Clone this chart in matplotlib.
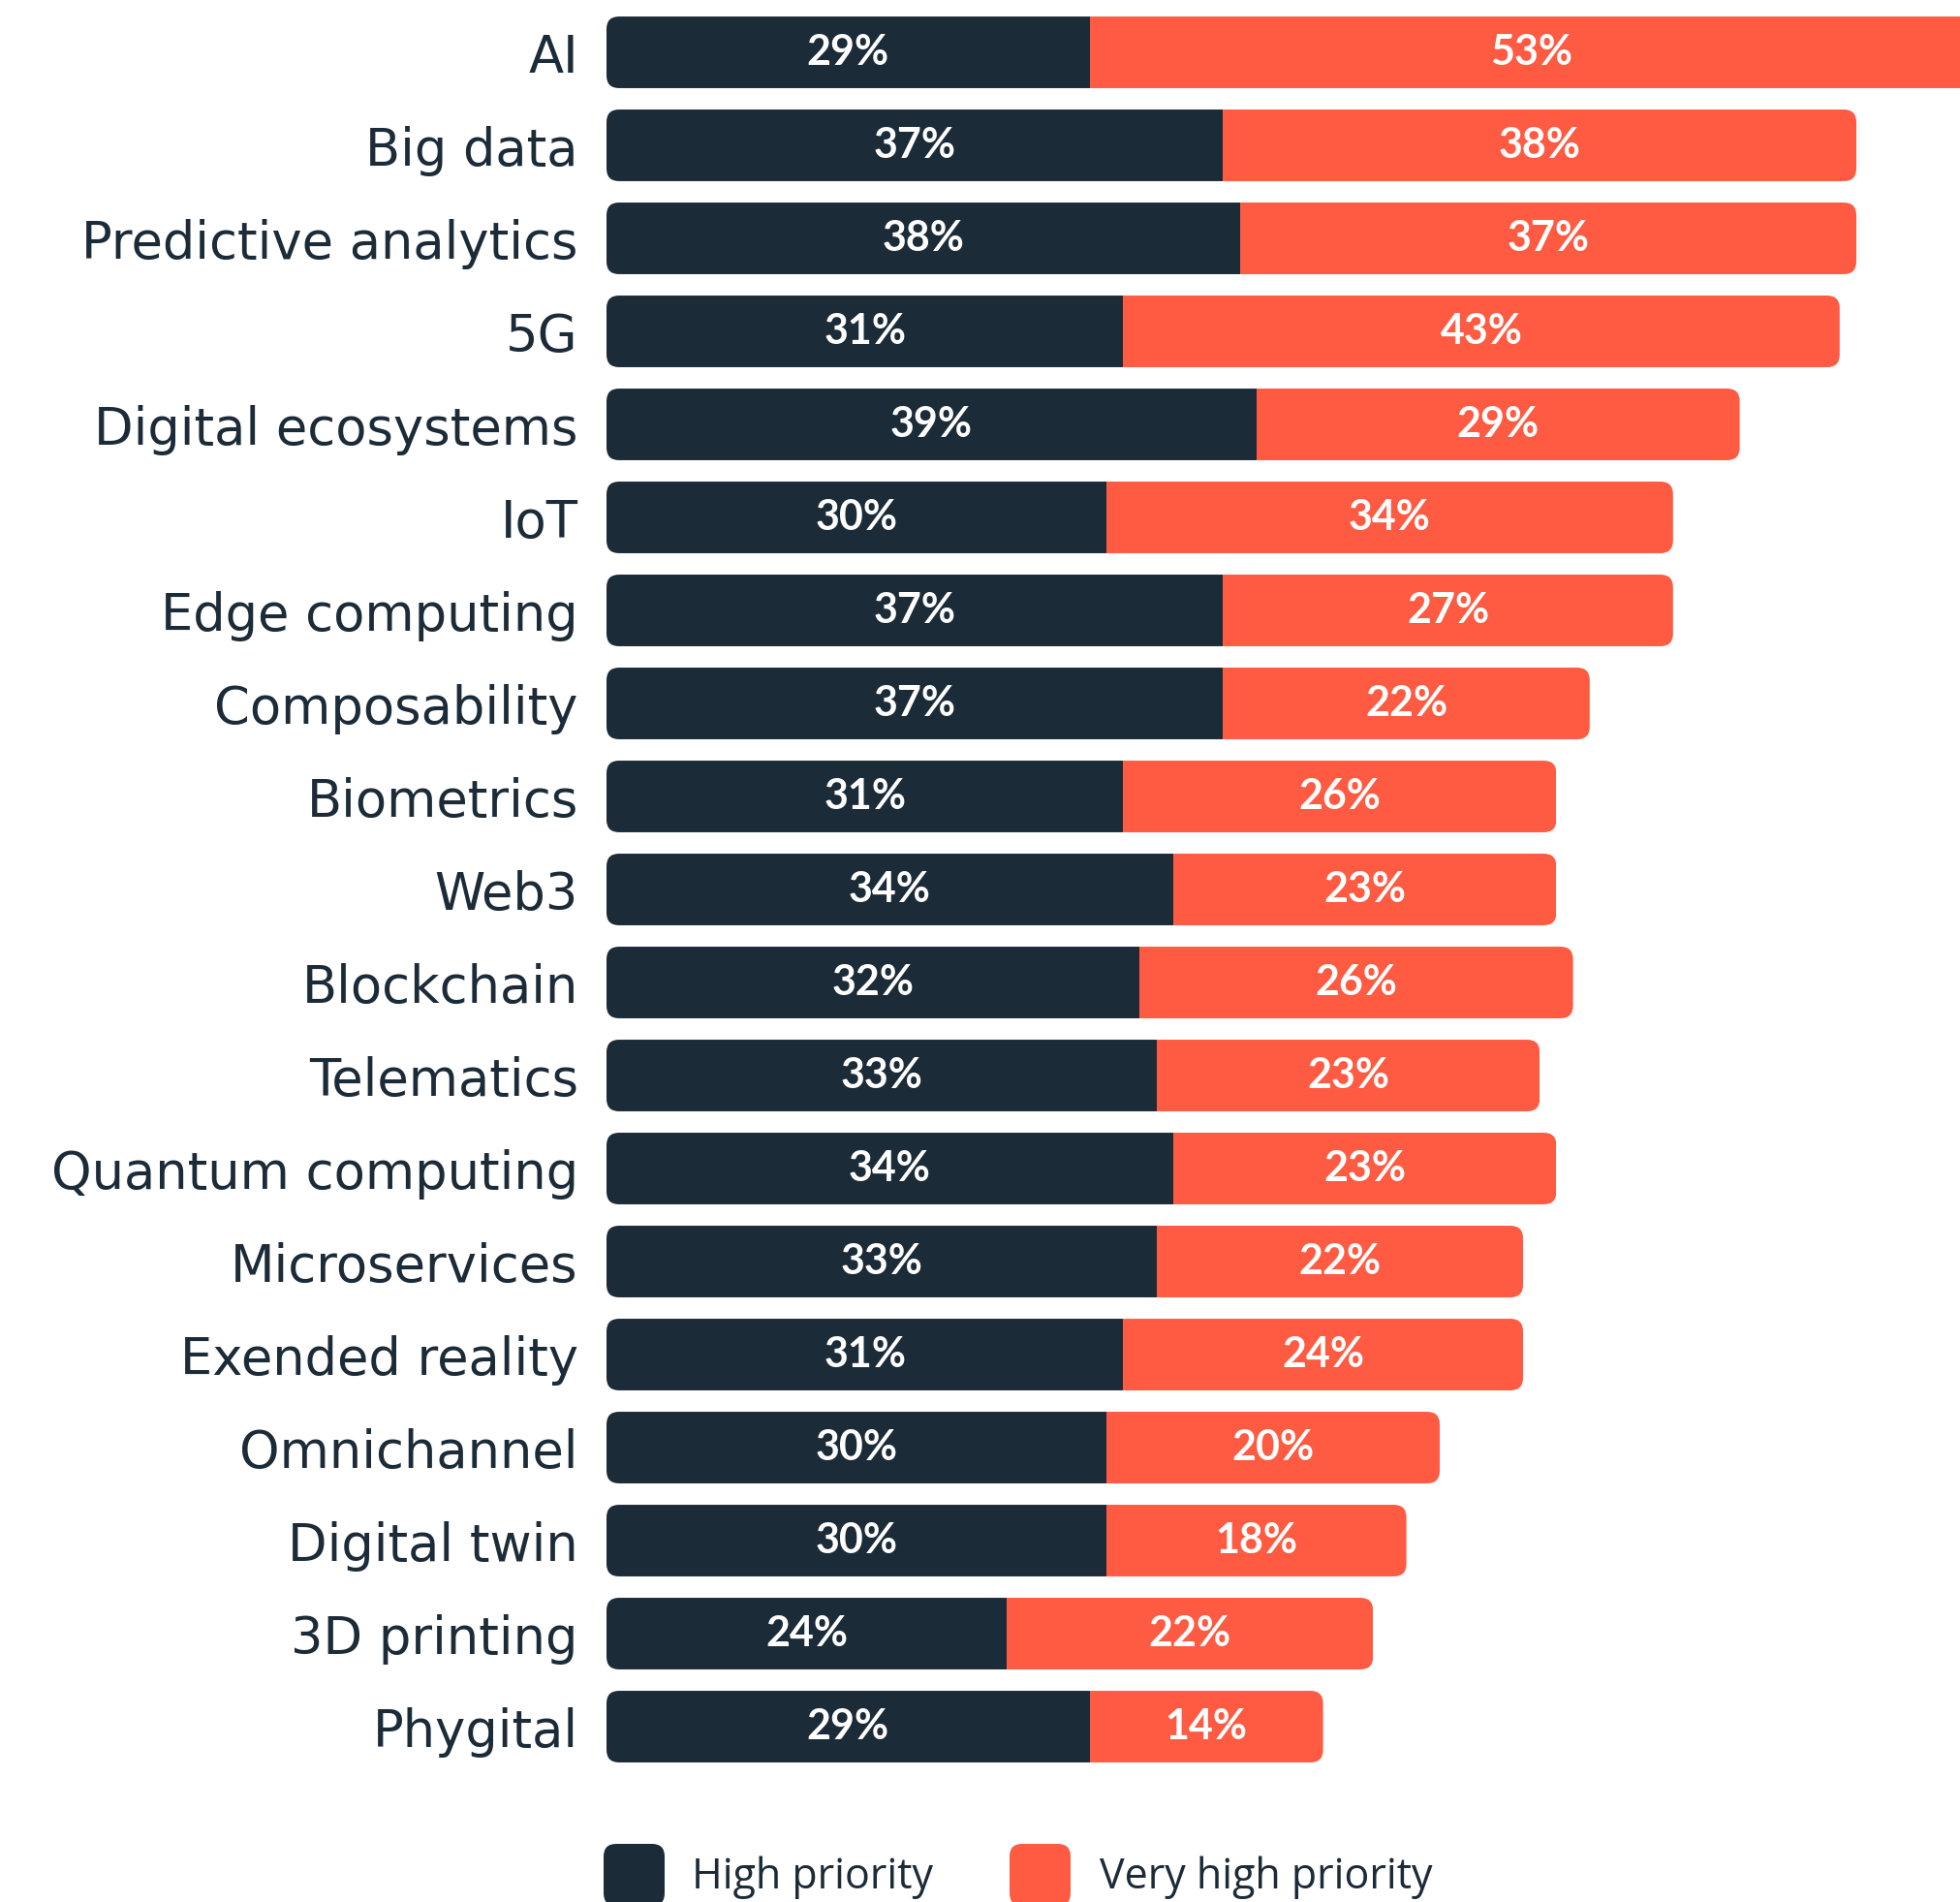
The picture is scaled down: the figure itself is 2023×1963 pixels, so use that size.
import numpy as np
import matplotlib
matplotlib.use("Agg")
import matplotlib.pyplot as plt
from matplotlib.patches import FancyBboxPatch

# survey data, top row first
categories = ["AI", "Big data", "Predictive analytics", "5G", "Digital ecosystems",
              "IoT", "Edge computing", "Composability", "Biometrics", "Web3",
              "Blockchain", "Telematics", "Quantum computing", "Microservices",
              "Exended reality", "Omnichannel", "Digital twin", "3D printing", "Phygital"]
high = [29, 37, 38, 31, 39, 30, 37, 37, 31, 34, 32, 33, 34, 33, 31, 30, 30, 24, 29]
very_high = [53, 38, 37, 43, 29, 34, 27, 22, 26, 23, 26, 23, 23, 22, 24, 20, 18, 22, 14]
series_names = ["High priority", "Very high priority"]

DARK = "#1c2b38"
ORANGE = "#ff5a42"

W, H = 2023, 1963
fig = plt.figure(figsize=(W / 100, H / 100), dpi=100)
ax = fig.add_axes([626 / W, (H - 1830) / H, 1 - 626 / W, (1830 - 6) / H])

y = np.arange(len(categories))
bar_h = 0.77
b1 = ax.barh(y, high, height=bar_h, color=DARK, linewidth=0)
b2 = ax.barh(y, very_high, left=high, height=bar_h, color=ORANGE, linewidth=0)

px_x = 17.2   # pixels per percent
px_y = 96.0   # pixels per row
ax.set_xlim(0, (W - 626) / px_x)
ax.set_ylim(len(categories) - 0.5, -0.5)

# rounded outer corners: clip each stacked pair to a rounded box
for i in range(len(categories)):
    total = high[i] + very_high[i]
    clip = FancyBboxPatch((0, y[i] - bar_h / 2), total, bar_h,
                          boxstyle="round,pad=0,rounding_size=%f" % (13 / px_x),
                          mutation_aspect=px_x / px_y,
                          transform=ax.transData)
    b1[i].set_clip_path(clip)
    b2[i].set_clip_path(clip)

    ax.text(high[i] / 2, y[i], f"{high[i]}%", color="white", fontsize=31,
            fontweight="bold", family="Lato", ha="center", va="center")
    ax.text(high[i] + very_high[i] / 2, y[i], f"{very_high[i]}%", color="white",
            fontsize=31, fontweight="bold", family="Lato", ha="center", va="center")

ax.set_yticks(y)
ax.set_yticklabels(categories, fontsize=38, family="DejaVu Sans", color=DARK)
ax.tick_params(axis="y", length=0, pad=21)
ax.set_xticks([])
for s in ax.spines.values():
    s.set_visible(False)

# legend drawn by hand so the swatches run off the bottom edge like the original
for x0, col, name, tx in [(623, DARK, series_names[0], 714), (1042, ORANGE, series_names[1], 1135)]:
    sw = FancyBboxPatch((x0 / W, (H - 1903 - 64) / H), 63 / W, 64 / H,
                        boxstyle="round,pad=0,rounding_size=%f" % (13 / W),
                        mutation_aspect=W / H,
                        transform=fig.transFigure, color=col, linewidth=0)
    fig.patches.append(sw)
    fig.text(tx / W, (H - 1949) / H, name, fontsize=31, family="Open Sans",
             color=DARK, ha="left", va="baseline")

fig.savefig("out.png", dpi=100)
